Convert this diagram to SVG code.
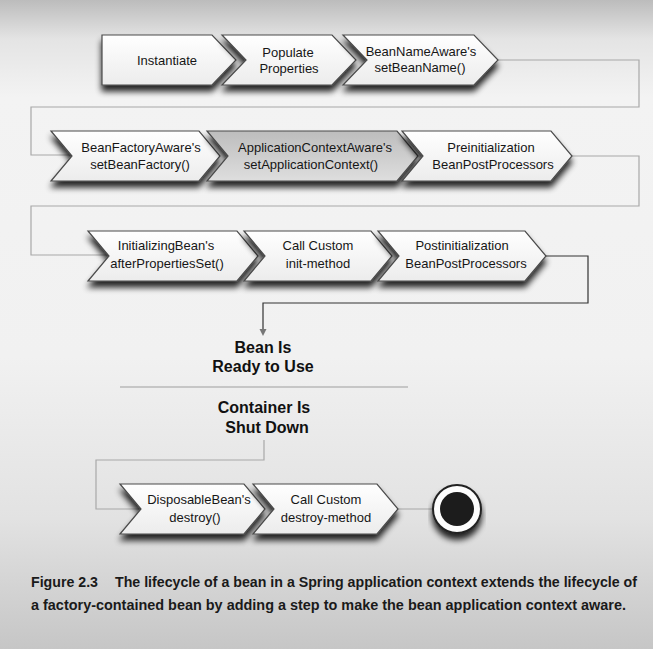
<svg xmlns="http://www.w3.org/2000/svg" width="653" height="649" viewBox="0 0 653 649">
<defs>
<linearGradient id="bg" x1="0" y1="0" x2="0" y2="1">
<stop offset="0" stop-color="#bcbcbc"/>
<stop offset="0.06" stop-color="#e4e4e4"/>
<stop offset="0.15" stop-color="#f3f3f3"/>
<stop offset="0.55" stop-color="#f1f1f1"/>
<stop offset="0.8" stop-color="#e2e2e2"/>
<stop offset="1" stop-color="#c6c6c6"/>
</linearGradient>
<linearGradient id="fillW" x1="0" y1="0" x2="0" y2="1">
<stop offset="0" stop-color="#ffffff"/>
<stop offset="1" stop-color="#ececec"/>
</linearGradient>
<linearGradient id="fillG" x1="0" y1="0" x2="0" y2="1">
<stop offset="0" stop-color="#bdbdbd"/>
<stop offset="1" stop-color="#dedede"/>
</linearGradient>
<filter id="sh" x="-10%" y="-20%" width="120%" height="160%">
<feGaussianBlur in="SourceAlpha" stdDeviation="3"/>
<feOffset dx="0" dy="6" result="b"/>
<feComponentTransfer><feFuncA type="linear" slope="0.85"/></feComponentTransfer>
<feMerge><feMergeNode/><feMergeNode in="SourceGraphic"/></feMerge>
</filter>
</defs>
<style>
.shape{fill:url(#fillW);stroke:#4a4a4a;stroke-width:1.2;filter:url(#sh)}
.shape.gray{fill:url(#fillG)}
.lbl{font-family:"Liberation Sans",Arial,sans-serif;font-size:13px;fill:#161616;text-anchor:middle}
.big{font-family:"Liberation Sans",Arial,sans-serif;font-size:16px;font-weight:bold;fill:#111;text-anchor:middle}
.cap{font-family:"Liberation Sans",Arial,sans-serif;font-size:14px;font-weight:bold;fill:#1a1a1a}
.conn{fill:none;stroke:#a8a8a8;stroke-width:1.2}
.connd{fill:none;stroke:#333;stroke-width:1.2}
</style>
<rect x="0" y="0" width="653" height="649" fill="url(#bg)"/>

<g id="connectors">
<path class="conn" d="M498,60 H639 V107 H31 V155 H72"/>
<path class="conn" d="M572,156 H639 V206 H31 V255 H109"/>
<path class="connd" d="M546,256 H588 V303 H263 V330"/>
<path d="M263,336 L259.5,329 L266.5,329 Z" fill="#777"/>
<path class="conn" d="M264,440 V460 H96 V509 H141"/>
<path class="conn" d="M398,509 H433"/>
</g>

<g id="instantiate">
<path class="shape" d="M102,35 H212 L236,60 L212,85 H102 Z"/>
<text class="lbl" x="167" y="65">Instantiate</text>
</g>
<g id="populate">
<path class="shape" d="M222,35 H332 L356,60 L332,85 H222 L246,60 Z"/>
<text class="lbl" x="288" y="57">Populate</text>
<text class="lbl" x="289" y="73">Properties</text>
</g>
<g id="beanNameAware">
<path class="shape" d="M343,35 H474 L498,60 L474,85 H343 L367,60 Z"/>
<text class="lbl" x="421" y="56">BeanNameAware's</text>
<text class="lbl" x="420" y="72">setBeanName()</text>
</g>

<g id="beanFactoryAware">
<path class="shape" d="M51,131 H199 L220,156 L199,181 H51 L72,156 Z"/>
<text class="lbl" x="141" y="152">BeanFactoryAware's</text>
<text class="lbl" x="140" y="169">setBeanFactory()</text>
</g>
<g id="applicationContextAware">
<path class="shape gray" d="M207,131 H397 L418,156 L397,181 H207 L228,156 Z"/>
<text class="lbl" x="315" y="152">ApplicationContextAware's</text>
<text class="lbl" x="311" y="169">setApplicationContext()</text>
</g>
<g id="preinitialization">
<path class="shape" d="M402,131 H551 L572,156 L551,181 H402 L423,156 Z"/>
<text class="lbl" x="491" y="152">Preinitialization</text>
<text class="lbl" x="493" y="169">BeanPostProcessors</text>
</g>

<g id="initializingBean">
<path class="shape" d="M88,231 H237 L258,256 L237,281 H88 L109,256 Z"/>
<text class="lbl" x="166" y="250">InitializingBean's</text>
<text class="lbl" x="167" y="268">afterPropertiesSet()</text>
</g>
<g id="callCustomInit">
<path class="shape" d="M244,231 H371 L392,256 L371,281 H244 L265,256 Z"/>
<text class="lbl" x="318" y="250">Call Custom</text>
<text class="lbl" x="318" y="268">init-method</text>
</g>
<g id="postinitialization">
<path class="shape" d="M378,231 H525 L546,256 L525,281 H378 L399,256 Z"/>
<text class="lbl" x="462" y="250">Postinitialization</text>
<text class="lbl" x="466" y="268">BeanPostProcessors</text>
</g>

<g id="beanReady">
<text class="big" x="263" y="353">Bean Is</text>
<text class="big" x="263" y="372">Ready to Use</text>
</g>
<line x1="120" y1="387" x2="408" y2="387" stroke="#b8b8b8" stroke-width="1.5"/>
<g id="containerShutDown">
<text class="big" x="264" y="413">Container Is</text>
<text class="big" x="267" y="433">Shut Down</text>
</g>

<g id="disposableBean">
<path class="shape" d="M120,484 H244 L265,509 L244,534 H120 L141,509 Z"/>
<text class="lbl" x="199" y="504">DisposableBean's</text>
<text class="lbl" x="195" y="522">destroy()</text>
</g>
<g id="callCustomDestroy">
<path class="shape" d="M253,484 H377 L398,509 L377,534 H253 L274,509 Z"/>
<text class="lbl" x="326" y="504">Call Custom</text>
<text class="lbl" x="326" y="522">destroy-method</text>
</g>
<g id="end">
<circle cx="457" cy="509" r="24" fill="#fdfdfd" stroke="#222" stroke-width="2" filter="url(#sh)"/>
<circle cx="457" cy="509" r="17" fill="#1c1c1c"/>
</g>

<g id="caption">
<text class="cap" x="31" y="587" textLength="67" lengthAdjust="spacingAndGlyphs">Figure 2.3</text>
<text class="cap" x="115" y="587" textLength="522" lengthAdjust="spacingAndGlyphs">The lifecycle of a bean in a Spring application context extends the lifecycle of</text>
<text class="cap" x="31" y="610" textLength="595" lengthAdjust="spacingAndGlyphs">a factory-contained bean by adding a step to make the bean application context aware.</text>
</g>
</svg>
